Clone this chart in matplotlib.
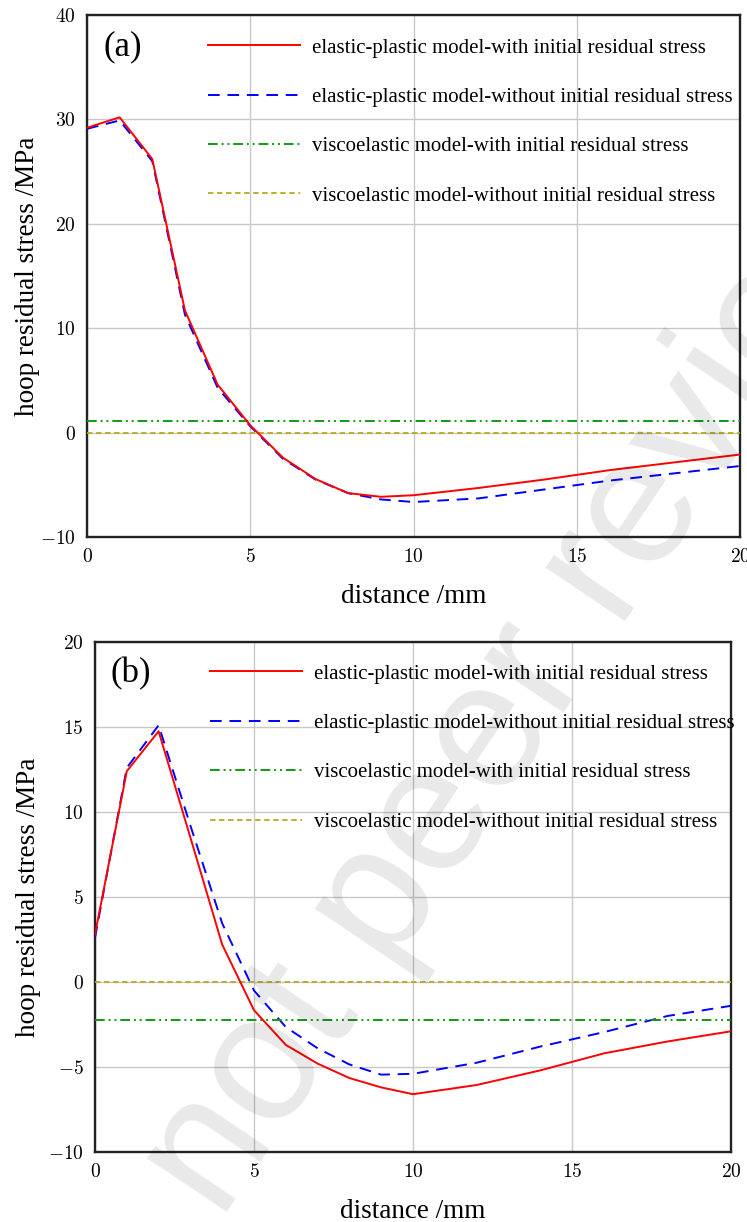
import matplotlib
matplotlib.use("Agg")
import matplotlib.pyplot as plt
import numpy as np

plt.rcParams['axes.formatter.use_mathtext'] = True
plt.rcParams['mathtext.fontset'] = 'cm'

# ---------------- data ----------------
labels = ["elastic-plastic model-with initial residual stress",
          "elastic-plastic model-without initial residual stress",
          "viscoelastic model-with initial residual stress",
          "viscoelastic model-without initial residual stress"]

x_a = [0, 1, 2, 3, 4, 5, 6, 7, 8, 9, 10, 12, 14, 16, 18, 20]
ep_with_a = [29.2, 30.2, 26.2, 11.7, 4.6, 0.7, -2.4, -4.45, -5.8, -6.15, -6.0, -5.3, -4.5, -3.6, -2.85, -2.1]
ep_without_a = [29.1, 29.9, 26.0, 11.3, 4.3, 0.6, -2.5, -4.5, -5.8, -6.4, -6.65, -6.3, -5.45, -4.6, -3.9, -3.2]
visco_with_a = 1.1
visco_without_a = 0.0

x_b = [0, 1, 2, 3, 4, 5, 6, 7, 8, 9, 10, 12, 14, 16, 18, 20]
ep_with_b = [2.8, 12.4, 14.75, 8.5, 2.2, -1.66, -3.7, -4.8, -5.65, -6.2, -6.6, -6.06, -5.2, -4.2, -3.5, -2.9]
ep_without_b = [2.6, 12.6, 15.1, 9.2, 3.45, -0.5, -2.65, -3.9, -4.85, -5.45, -5.4, -4.75, -3.8, -2.95, -2.0, -1.4]
visco_with_b = -2.23
visco_without_b = 0.0

xticks = [0, 5, 10, 15, 20]
yticks_a = [-10, 0, 10, 20, 30, 40]
yticks_b = [-10, -5, 0, 5, 10, 15, 20]

# ---------------- style ----------------
serif = ['Liberation Serif', 'DejaVu Serif']
c_red = '#ff0000'
c_blue = '#0000ff'
c_green = '#109a10'
c_yel = '#b8aa1c'

fig = plt.figure(figsize=(7.47, 12.22), dpi=100)
ax_a = fig.add_axes([87/747, 1-537/1222, (740-87)/747, (537-15)/1222])
ax_b = fig.add_axes([95/747, 1-1152/1222, (731-95)/747, (1152-642)/1222])


def draw(ax, x, ep_w, ep_wo, vw, vwo, yticks, tag, leg_anchor, ylpad):
    ax.plot(x, ep_w, color=c_red, lw=1.4, label=labels[0], zorder=4)
    ax.plot(x, ep_wo, color=c_blue, lw=1.4, ls=(0, (6, 4)), label=labels[1], zorder=3)
    ax.plot([x[0], x[-1]], [vw, vw], color=c_green, lw=1.4,
            ls=(0, (5, 2, 1, 2, 1, 2)), label=labels[2], zorder=3)
    ax.plot([x[0], x[-1]], [vwo, vwo], color=c_yel, lw=1.3,
            ls=(0, (3, 2)), label=labels[3], zorder=3)
    ax.set_xlim(0, 20)
    ax.set_ylim(yticks[0], yticks[-1])
    ax.set_xticks(xticks)
    ax.set_yticks(yticks)
    ax.grid(True, color='#c8c8c8', lw=1.0)
    ax.set_axisbelow(True)
    ax.tick_params(length=0, pad=8, labelsize=14)
    for lab in ax.get_xticklabels() + ax.get_yticklabels():
        lab.set_family('cmr10')
    for sp in ax.spines.values():
        sp.set_linewidth(1.7)
        sp.set_color('#222222')
    ax.set_xlabel('distance /mm', family=serif, fontsize=19.5, labelpad=13)
    ax.set_ylabel('hoop residual stress /MPa', family=serif, fontsize=19.5, labelpad=ylpad)
    ax.text(0.025, 0.97, tag, transform=ax.transAxes, family=serif,
            fontsize=25, va='top', ha='left')
    leg = ax.legend(loc='upper left', bbox_to_anchor=leg_anchor, frameon=False,
                    prop={'family': serif, 'size': 15}, handlelength=4.4,
                    handletextpad=0.58, labelspacing=1.43, borderaxespad=0)
    leg.set_zorder(5)


draw(ax_a, x_a, ep_with_a, ep_without_a, visco_with_a, visco_without_a, yticks_a, '(a)',
     (0.173, 0.972), 0)
draw(ax_b, x_b, ep_with_b, ep_without_b, visco_with_b, visco_without_b, yticks_b, '(b)',
     (0.168, 0.973), 5)

# watermark
fig.text(220/747, 1-1222/1222, 'not peer reviewed', family=['Liberation Sans', 'DejaVu Sans'],
         fontsize=130, rotation=56, rotation_mode='anchor', ha='left', va='baseline',
         color='black', alpha=0.09, zorder=10)

fig.savefig('out.png', dpi=100)
